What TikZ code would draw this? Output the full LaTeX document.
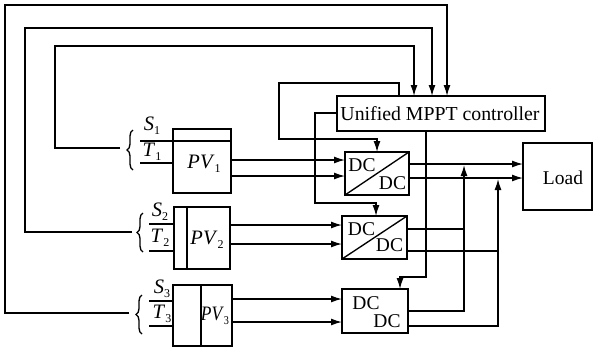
\documentclass[tikz,border=0pt]{standalone}
\usepackage{fontspec}
\setmainfont{Liberation Serif}
\usetikzlibrary{arrows.meta,decorations.pathreplacing}
\newcommand{\varlab}[2]{\fontsize{20.5}{24}\selectfont\textit{#1}\raisebox{-4pt}{\fontsize{12}{15}\selectfont #2}}
\begin{document}
\begin{tikzpicture}[x=1pt,y=-1pt,line width=1.35pt]
		\tikzstyle{every node}=[inner sep=0pt, outer sep=0pt]
		\tikzstyle{block}=[draw, anchor=north west, fill=none]
		\tikzstyle{txt}=[font=\fontsize{19.5}{22}\selectfont]
		\tikzstyle{sig}=[-{Latex[length=11pt,width=7pt]}]
		\tikzstyle{curly}=[decorate, decoration={brace,amplitude=6pt,mirror,raise=0pt}]
		\useasboundingbox (0,0) rectangle (593,354);

		\node[block, minimum width=208pt, minimum height=35pt] (ctrl) at (337,96) {};
		\node[font=\fontsize{19.8}{22}\selectfont] (ctrltxt) at (440,113.5) {Unified MPPT controller};
		\node[block, minimum width=69pt, minimum height=67pt] (load) at (523,143) {};
		\node[txt] (loadtxt) at (563,178) {Load};

		\node[block, minimum width=58pt, minimum height=64pt] (pv1) at (173,129) {};
		\node[block, minimum width=56pt, minimum height=62pt] (pv2) at (174,207) {};
		\node[block, minimum width=59pt, minimum height=61pt] (pv3) at (173,285) {};
		\node[block, minimum width=64pt, minimum height=43pt] (dc1) at (345,152) {};
		\node[block, minimum width=65pt, minimum height=43pt] (dc2) at (342,216) {};
		\node[block, minimum width=66pt, minimum height=44pt] (dc3) at (342,289) {};

		\node (pv1txt) at (204,164) {\varlab{PV}{1}};
		\node (pv2txt) at (207,240) {\varlab{PV}{2}};
		\node[transform shape, xscale=.85] (pv3txt) at (215,316) {\varlab{PV}{3}};
		\node (s1txt) at (152,126) {\varlab{S}{1}};
		\node (t1txt) at (152,152) {\varlab{T}{1}};
		\node (s2txt) at (160,212) {\varlab{S}{2}};
		\node (t2txt) at (160,238) {\varlab{T}{2}};
		\node (s3txt) at (162,289) {\varlab{S}{3}};
		\node (t3txt) at (162,314) {\varlab{T}{3}};

		\node[txt] (dc1a) at (362,165) {DC};
		\node[txt] (dc1b) at (392.5,183) {DC};
		\node[txt] (dc2a) at (361.5,229) {DC};
		\node[txt] (dc2b) at (389.5,245) {DC};
		\node[txt] (dc3a) at (366,303) {DC};
		\node[txt] (dc3b) at (387,321) {DC};

		\draw (dc1.south west)--(dc1.north east);
		\draw (dc2.south west)--(dc2.north east);
		\draw (pv1.west|-0,141)--(pv1.east|-0,141);
		\draw (187,207)--(187,269);
		\draw (201,285)--(201,346);

		\coordinate (s1) at (140,141);
		\coordinate (t1) at (140,163);
		\coordinate (s2) at (149,224);
		\coordinate (t2) at (149,251);
		\coordinate (s3) at (149,301);
		\coordinate (t3) at (149,326);
		\draw (s1)--(s1-|pv1.west);
		\draw (t1)--(t1-|pv1.west);
		\draw (s2)--(s2-|pv2.west);
		\draw (t2)--(t2-|pv2.west);
		\draw (s3)--(s3-|pv3.west);
		\draw (t3)--(t3-|pv3.west);

		\coordinate (b1a) at (133,130);
		\coordinate (b1b) at (133,170);
		\coordinate (b2a) at (143,213);
		\coordinate (b2b) at (143,252);
		\coordinate (b3a) at (142,295);
		\coordinate (b3b) at (142,334);
		\draw[curly] (b1a)--(b1b);
		\draw[curly] (b2a)--(b2b);
		\draw[curly] (b3a)--(b3b);

		\coordinate (fb1) at (120,148);
		\coordinate (fb2) at (132,232);
		\coordinate (fb3) at (129,313);
		\coordinate (in1) at (414,96);
		\coordinate (in2) at (432,96);
		\coordinate (in3) at (447,96);
		\draw[sig] (fb1)--(55,148)--(55,46)--(414,46)--(in1);
		\draw[sig] (fb2)--(25,232)--(25,28)--(432,28)--(in2);
		\draw[sig] (fb3)--(5,313)--(5,5)--(447,5)--(in3);

		\draw[sig] (pv1.east|-0,160)--(dc1.west|-0,160);
		\draw[sig] (pv1.east|-0,176)--(dc1.west|-0,176);
		\draw[sig] (pv2.east|-0,225)--(dc2.west|-0,225);
		\draw[sig] (pv2.east|-0,244)--(dc2.west|-0,244);
		\draw[sig] (pv3.east|-0,299)--(dc3.west|-0,299);
		\draw[sig] (pv3.east|-0,322)--(dc3.west|-0,322);

		\draw[sig] (ctrl.north-|399,0)--(399,83)--(279,83)--(279,139)--(377,139)--(377,0|-dc1.north);
		\draw[sig] (ctrl.west|-0,113)--(315,113)--(315,203)--(376,203)--(376,0|-dc2.north);
		\draw[sig] (ctrl.south-|426,0)--(426,277)--(400,277)--(400,0|-dc3.north);

		\draw[sig] (dc1.east|-0,164)--(load.west|-0,164);
		\draw[sig] (dc1.east|-0,178)--(load.west|-0,178);
		\draw (dc2.east|-0,229)--(464,229);
		\draw (dc2.east|-0,251)--(498,251);
		\draw[sig] (dc3.east|-0,311)--(464,311)--(464,165);
		\draw[sig] (dc3.east|-0,326)--(498,326)--(498,179);
	\end{tikzpicture}
\end{document}
